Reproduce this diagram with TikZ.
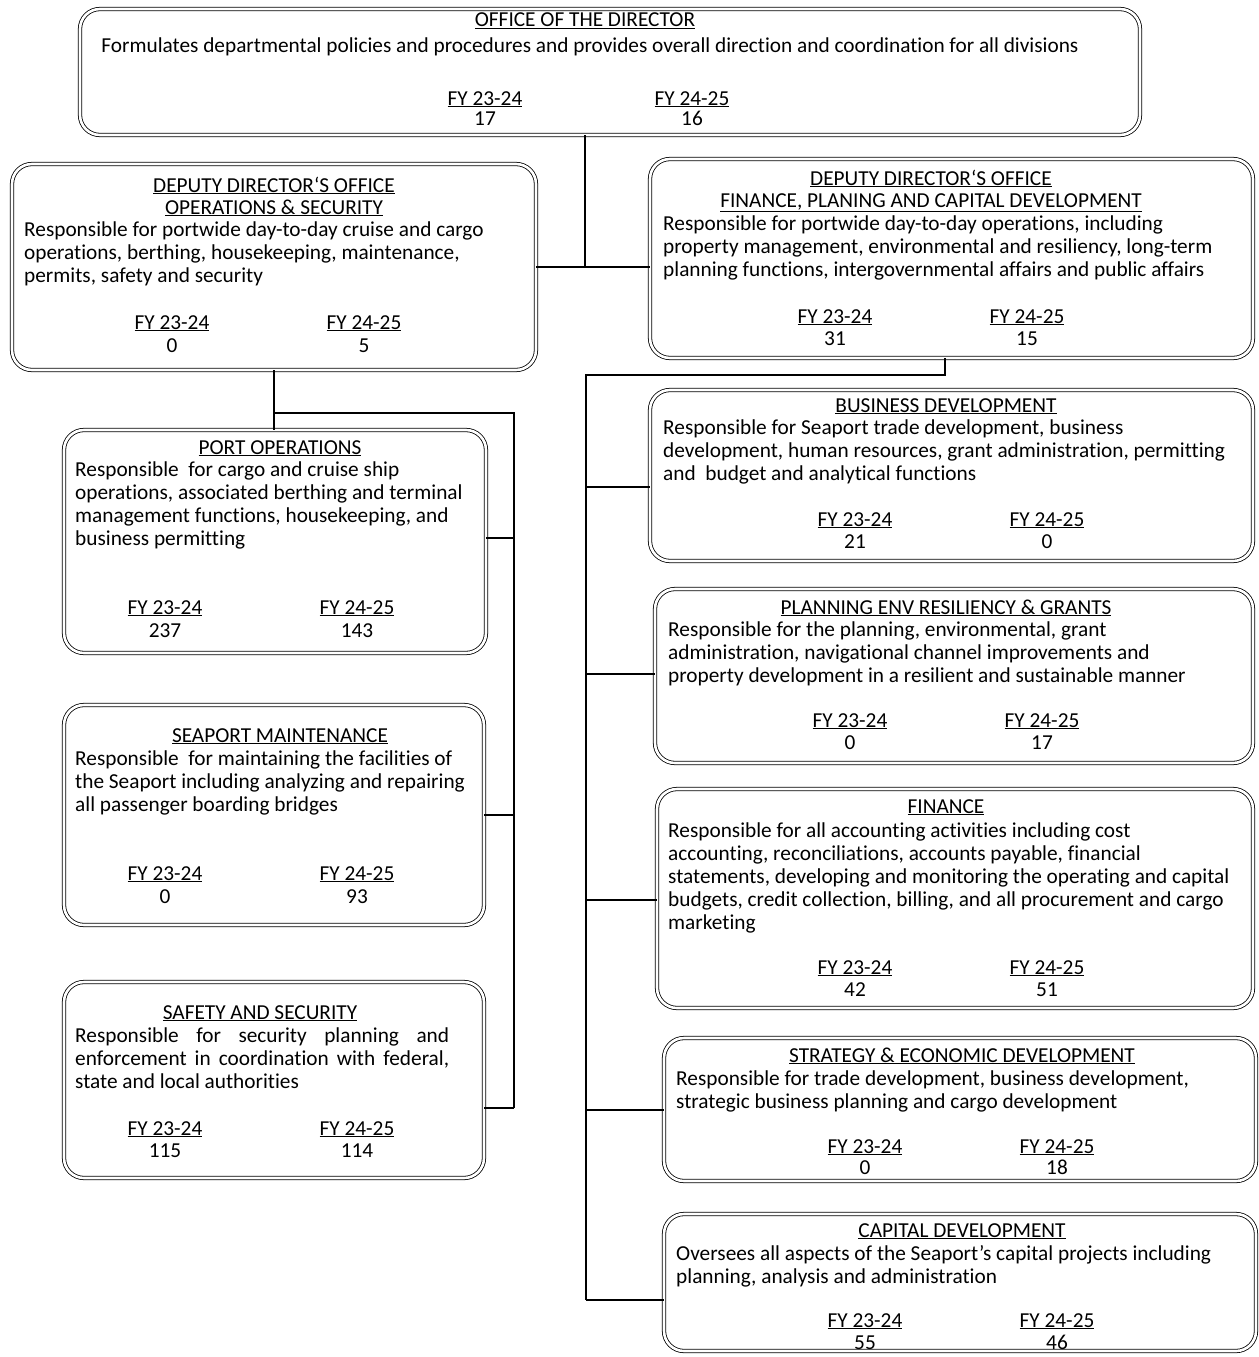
\documentclass[tikz,border=0pt]{standalone}
\usepackage{fontspec}
\setmainfont{Carlito}[Ligatures=NoCommon]
\newcommand{\orgfont}{\fontsize{21.3}{23}\selectfont}

\begin{document}
\begin{tikzpicture}[x=1pt, y=-1pt,
    every node/.style={inner sep=0pt},
    unitbox/.style={draw, double, double distance=2.6pt, line width=0.8pt, rounded corners=20pt},
    hdr/.style={anchor=base, font=\orgfont},
    txt/.style={anchor=north west, align=left, font=\orgfont},
    link/.style={line width=1.4pt}]
\useasboundingbox (0,0) rectangle (1258,1357);

% boxes
\node[unitbox, minimum width=1060pt, minimum height=126pt] (dir) at (610,72) {};
\node[unitbox, minimum width=524pt, minimum height=206pt] (ops) at (274,267) {};
\node[unitbox, minimum width=603pt, minimum height=199pt] (fin) at (951.5,258.5) {};
\node[unitbox, minimum width=422pt, minimum height=223pt] (portops) at (275,541.5) {};
\node[unitbox, minimum width=420pt, minimum height=220pt] (maint) at (274,815) {};
\node[unitbox, minimum width=420pt, minimum height=196pt] (safety) at (274,1080) {};
\node[unitbox, minimum width=603pt, minimum height=171pt] (busdev) at (951.5,475.5) {};
\node[unitbox, minimum width=598pt, minimum height=174pt] (plan) at (954,676) {};
\node[unitbox, minimum width=596pt, minimum height=219pt] (finance) at (955,898.5) {};
\node[unitbox, minimum width=592pt, minimum height=143pt] (strat) at (960,1109.5) {};
\node[unitbox, minimum width=592pt, minimum height=137pt] (cap) at (960,1282.5) {};

% director
\node[hdr] (dirT) at (585,27) {\underline{OFFICE OF THE DIRECTOR}};
\node[txt, anchor=north] (dirB) at (590,38) {Formulates departmental policies and procedures and provides overall direction and coordination for all divisions};
\node[hdr] (dirFa) at (485,105) {\underline{FY 23-24}};
\node[hdr] (dirFb) at (692,105) {\underline{FY 24-25}};
\node[hdr] (dirVa) at (485,125) {17};
\node[hdr] (dirVb) at (692,125) {16};

% deputy operations
\node[hdr] (opsT1) at (274,192) {\underline{DEPUTY DIRECTOR‘S OFFICE}};
\node[hdr] (opsT2) at (274,214) {\underline{OPERATIONS \& SECURITY}};
\node[txt] (opsB) at (24,222) {Responsible for portwide day-to-day cruise and cargo\\operations, berthing, housekeeping, maintenance,\\permits, safety and security};
\node[hdr] (opsFa) at (172,329) {\underline{FY 23-24}};
\node[hdr] (opsFb) at (364,329) {\underline{FY 24-25}};
\node[hdr] (opsVa) at (172,352) {0};
\node[hdr] (opsVb) at (364,352) {5};

% deputy finance
\node[hdr] (finT1) at (931,185) {\underline{DEPUTY DIRECTOR‘S OFFICE}};
\node[hdr] (finT2) at (931,207) {\underline{FINANCE, PLANING AND CAPITAL DEVELOPMENT}};
\node[txt] (finB) at (663,216) {Responsible for portwide day-to-day operations, including\\property management, environmental and resiliency, long-term\\planning functions, intergovernmental affairs and public affairs};
\node[hdr] (finFa) at (835,323) {\underline{FY 23-24}};
\node[hdr] (finFb) at (1027,323) {\underline{FY 24-25}};
\node[hdr] (finVa) at (835,345) {31};
\node[hdr] (finVb) at (1027,345) {15};

% port operations
\node[hdr] (portopsT) at (280,454) {\underline{PORT OPERATIONS}};
\node[txt] (portopsB) at (75,462) {Responsible\ \ for cargo and cruise ship\\operations, associated berthing and terminal\\management functions, housekeeping, and\\business permitting};
\node[hdr] (portopsFa) at (165,614) {\underline{FY 23-24}};
\node[hdr] (portopsFb) at (357,614) {\underline{FY 24-25}};
\node[hdr] (portopsVa) at (165,637) {237};
\node[hdr] (portopsVb) at (357,637) {143};

% seaport maintenance
\node[hdr] (maintT) at (280,742) {\underline{SEAPORT MAINTENANCE}};
\node[txt] (maintB) at (75,750) {Responsible\ \ for maintaining the facilities of\\the Seaport including analyzing and repairing\\all passenger boarding bridges};
\node[hdr] (maintFa) at (165,880) {\underline{FY 23-24}};
\node[hdr] (maintFb) at (357,880) {\underline{FY 24-25}};
\node[hdr] (maintVa) at (165,903) {0};
\node[hdr] (maintVb) at (357,903) {93};

% safety and security
\node[hdr] (safetyT) at (260,1019) {\underline{SAFETY AND SECURITY}};
\node[txt] (safetyB) at (75,1027) {\makebox[374pt][s]{Responsible for security planning and}\\\makebox[374pt][s]{enforcement in coordination with federal,}\\state and local authorities};
\node[hdr] (safetyFa) at (165,1135) {\underline{FY 23-24}};
\node[hdr] (safetyFb) at (357,1135) {\underline{FY 24-25}};
\node[hdr] (safetyVa) at (165,1157) {115};
\node[hdr] (safetyVb) at (357,1157) {114};

% business development
\node[hdr] (busdevT) at (946,412) {\underline{BUSINESS DEVELOPMENT}};
\node[txt] (busdevB) at (663,420) {Responsible for Seaport trade development, business\\development, human resources, grant administration, permitting\\and\ \ budget and analytical functions};
\node[hdr] (busdevFa) at (855,526) {\underline{FY 23-24}};
\node[hdr] (busdevFb) at (1047,526) {\underline{FY 24-25}};
\node[hdr] (busdevVa) at (855,548) {21};
\node[hdr] (busdevVb) at (1047,548) {0};

% planning
\node[hdr] (planT) at (946,614) {\underline{PLANNING ENV RESILIENCY \& GRANTS}};
\node[txt] (planB) at (668,622) {Responsible for the planning, environmental, grant\\administration, navigational channel improvements and\\property development in a resilient and sustainable manner};
\node[hdr] (planFa) at (850,727) {\underline{FY 23-24}};
\node[hdr] (planFb) at (1042,727) {\underline{FY 24-25}};
\node[hdr] (planVa) at (850,749) {0};
\node[hdr] (planVb) at (1042,749) {17};

% finance
\node[hdr] (financeT) at (946,813) {\underline{FINANCE}};
\node[txt] (financeB) at (668,822) {Responsible for all accounting activities including cost\\accounting, reconciliations, accounts payable, financial\\statements, developing and monitoring the operating and capital\\budgets, credit collection, billing, and all procurement and cargo\\marketing};
\node[hdr] (financeFa) at (855,974) {\underline{FY 23-24}};
\node[hdr] (financeFb) at (1047,974) {\underline{FY 24-25}};
\node[hdr] (financeVa) at (855,996) {42};
\node[hdr] (financeVb) at (1047,996) {51};

% strategy
\node[hdr] (stratT) at (962,1062) {\underline{STRATEGY \& ECONOMIC DEVELOPMENT}};
\node[txt] (stratB) at (676,1070) {Responsible for trade development, business development,\\strategic business planning and cargo development};
\node[hdr] (stratFa) at (865,1153) {\underline{FY 23-24}};
\node[hdr] (stratFb) at (1057,1153) {\underline{FY 24-25}};
\node[hdr] (stratVa) at (865,1174) {0};
\node[hdr] (stratVb) at (1057,1174) {18};

% capital development
\node[hdr] (capT) at (962,1237) {\underline{CAPITAL DEVELOPMENT}};
\node[txt] (capB) at (676,1245) {Oversees all aspects of the Seaport’s capital projects including\\planning, analysis and administration};
\node[hdr] (capFa) at (865,1327) {\underline{FY 23-24}};
\node[hdr] (capFb) at (1057,1327) {\underline{FY 24-25}};
\node[hdr] (capVa) at (865,1349) {55};
\node[hdr] (capVb) at (1057,1349) {46};

% connectors
\coordinate (hub) at (585,267);
\draw[link] (dir.south -| hub) -- (hub);
\draw[link] (ops.east |- hub) -- (fin.west |- hub);

\coordinate (lsplit) at (274,413);
\coordinate (lbus) at (514,413);
\coordinate (l1) at (514,538);
\coordinate (l2) at (514,815);
\coordinate (l3) at (514,1108);
\draw[link] (ops.south) -- (ops.south |- portops.north);
\draw[link] (lsplit) -- (lbus) -- (l3);
\draw[link] (l1) -- (l1 -| portops.east);
\draw[link] (l2) -- (l2 -| maint.east);
\draw[link] (l3) -- (l3 -| safety.east);

\coordinate (rdrop) at (945,375);
\coordinate (rbus) at (586,375);
\coordinate (r1) at (586,487);
\coordinate (r2) at (586,674);
\coordinate (r3) at (586,900);
\coordinate (r4) at (586,1110);
\coordinate (r5) at (586,1300);
\draw[link] (rdrop |- fin.south) -- (rdrop) -- (rbus) -- (r5);
\draw[link] (r1) -- (r1 -| busdev.west);
\draw[link] (r2) -- (r2 -| plan.west);
\draw[link] (r3) -- (r3 -| finance.west);
\draw[link] (r4) -- (r4 -| strat.west);
\draw[link] (r5) -- (r5 -| cap.west);
\end{tikzpicture}
\end{document}
